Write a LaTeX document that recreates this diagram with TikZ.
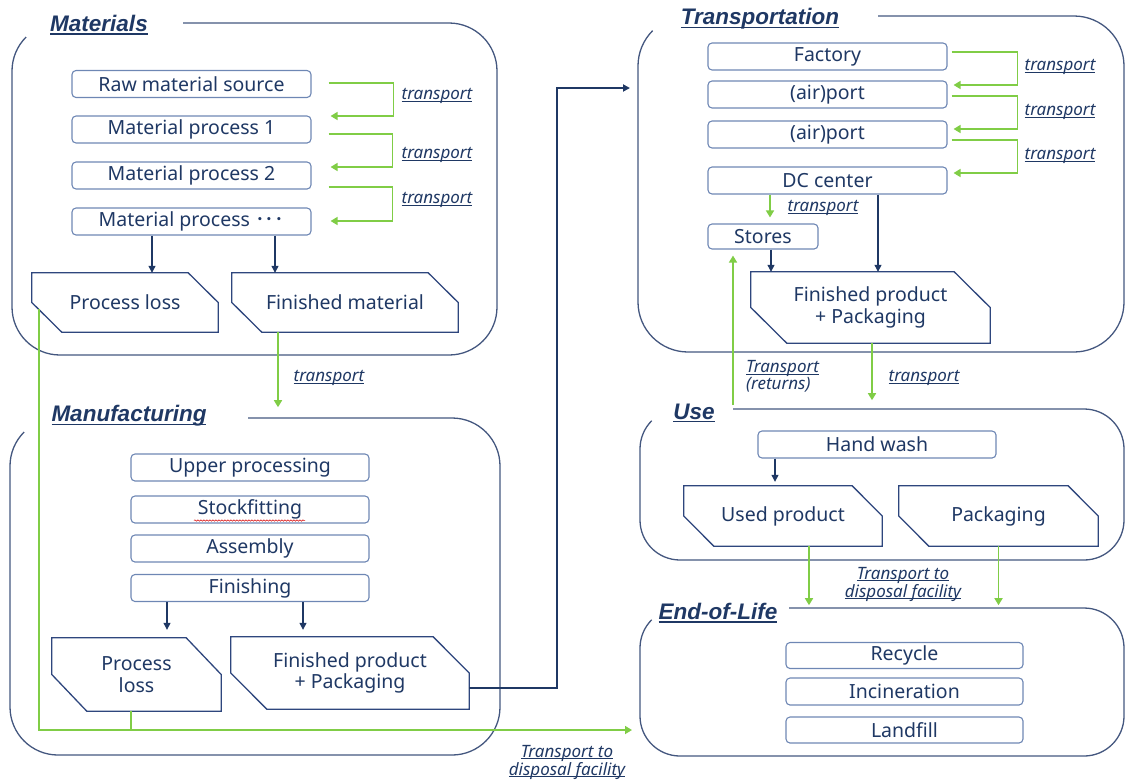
\documentclass[tikz,border=0pt]{standalone}
\usepackage{fontspec}
\setmainfont{Noto Sans}
\newfontfamily\cjk{Noto Sans CJK JP}
\newfontfamily\ttlfont{Liberation Sans}
\newcommand\myul[1]{{\setbox0=\hbox{#1}\rlap{\copy0}\rule[-0.14em]{\wd0}{0.06em}}}
\usetikzlibrary{arrows.meta,calc,decorations.pathmorphing}
\definecolor{navy}{RGB}{31,56,100}
\definecolor{contc}{RGB}{68,87,127}
\definecolor{boxc}{RGB}{110,135,180}
\definecolor{chc}{RGB}{46,70,125}
\definecolor{grn}{RGB}{128,205,70}
\newcommand\chamf[2]{\draw[draw=chc,line width=1.3pt,line join=miter] (#1.north west) -- ([xshift=-#2pt]#1.north east) -- (#1.east) -- (#1.south east) -- ([xshift=#2pt]#1.south west) -- (#1.west) -- cycle;}
\newcommand\contbox[6]{\draw[cont] (#5,#2) -- ({#3-#6},#2) arc[start angle=-90,end angle=0,radius=#6] -- (#3,{#4-#6}) arc[start angle=0,end angle=90,radius=#6] -- ({#1+#6},#4) arc[start angle=90,end angle=180,radius=#6] -- (#1,{#2+#6}) arc[start angle=180,end angle=225,radius=#6];}
\begin{document}
\begin{tikzpicture}[x=1pt,y=-1pt,
 cont/.style={draw=contc,line width=1.3pt},
 pbox/.style={draw=boxc,line width=1.1pt,rounded corners=4pt,minimum height=27pt,inner sep=0pt,font=\fontsize{19.5}{21}\selectfont,text=navy},
 chbox/.style={inner sep=0pt,align=center,font=\fontsize{19.5}{21.5}\selectfont,text=navy},
 ttl/.style={font=\ttlfont\fontsize{22.5}{26}\selectfont\bfseries\itshape,text=navy,inner sep=0pt},
 lbl/.style={font=\fontsize{17}{16}\selectfont\itshape,text=navy,align=center,inner sep=0pt},
 garrow/.style={draw=grn,line width=1.6pt,-{Triangle[length=7pt,width=8pt]}},
 gline/.style={draw=grn,line width=1.6pt},
 narrow/.style={draw=navy,line width=1.2pt,-{Triangle[length=7pt,width=7pt]}},
]
\useasboundingbox (0,0) rectangle (1126,780);

% containers
\contbox{12}{23}{497}{355}{183}{48}
\contbox{10}{418}{500}{755}{248}{48}
\contbox{638}{16}{1124}{352}{878}{50}
\contbox{640}{409}{1124}{560}{733}{40}
\contbox{640}{608}{1124}{756}{789}{40}

% titles
\node[ttl] (tmat) at (99,25) {\myul{Materials}};
\node[ttl] (tman) at (129,416) {\myul{Manufacturing}};
\node[ttl] (ttra) at (760,19) {\myul{Transportation}};
\node[ttl] (tuse) at (694,413) {\myul{Use}};
\node[ttl] (teol) at (718,613) {\myul{End-of-Life}};

% Materials
\node[pbox,minimum width=239pt] (raw) at (191.5,84) {Raw material source};
\node[pbox,minimum width=239pt] (mp1) at (191.5,129.5) {Material process 1};
\node[pbox,minimum width=239pt] (mp2) at (191.5,175.5) {Material process 2};
\node[pbox,minimum width=239pt] (mp3) at (191.5,221.5) {Material process {\cjk ･･･}};
\node[chbox,minimum width=186pt,minimum height=59pt] (mloss) at (125,302.5) {Process loss};
\node[chbox,minimum width=226pt,minimum height=59pt] (mfin) at (345,302.5) {Finished material};
\chamf{mloss}{30}
\chamf{mfin}{30}

\draw[garrow] ([xshift=17pt,yshift=1pt]raw.east) -- ++(65,0) |- ([xshift=19pt,yshift=13.5pt]mp1.east);
\draw[garrow] ([xshift=17pt,yshift=-4.5pt]mp1.east) -- ++(64,0) |- ([xshift=19pt,yshift=8.5pt]mp2.east);
\draw[garrow] ([xshift=17pt,yshift=-11.5pt]mp2.east) -- ++(64,0) |- ([xshift=19pt,yshift=0.5pt]mp3.east);
\node[lbl] (l1) at (437,96) {\myul{transport}};
\node[lbl] (l2) at (437,155) {\myul{transport}};
\node[lbl] (l3) at (437,200) {\myul{transport}};

\draw[narrow] ([xshift=-39.5pt]mp3.south) coordinate (a1) -- (a1 |- mloss.north);
\draw[narrow] ([xshift=83.5pt]mp3.south) coordinate (a2) -- (a2 |- mfin.north);

\draw[garrow] ([xshift=-67pt]mfin.south) -- ++(0,75);
\node[lbl] (l4) at (329,378) {\myul{transport}};

% Manufacturing
\node[pbox,minimum width=238pt] (up) at (250,467.5) {Upper processing};
\node[pbox,minimum width=238pt] (sf) at (250,509.5) {Stockfitting};
\node[pbox,minimum width=238pt] (as) at (250,548.5) {Assembly};
\node[pbox,minimum width=238pt] (fi) at (250,588) {Finishing};
\draw[red!85!black,line width=0.5pt,decoration={snake,amplitude=0.7pt,segment length=3pt},decorate] ([xshift=-56pt,yshift=-11pt]sf.center) -- ([xshift=55pt,yshift=-11pt]sf.center);
\node[chbox,minimum width=169pt,minimum height=73pt] (floss) at (136.5,674.5) {Process\\loss};
\node[chbox,minimum width=238pt,minimum height=72pt] (ffin) at (350,673) {Finished product\\+ Packaging};
\chamf{floss}{35}
\chamf{ffin}{36}
\draw[narrow,shorten >=8pt] ([xshift=-83pt]fi.south) coordinate (a3) -- (a3 |- floss.north);
\draw[narrow,shorten >=7pt] ([xshift=53pt]fi.south) coordinate (a4) -- (a4 |- ffin.north);

% disposal from materials / manufacturing
\coordinate (eolin) at (632,730);
\draw[garrow] ([xshift=7pt,yshift=-6.5pt]mloss.west) |- (eolin);
\draw[gline] ([xshift=-5.5pt]floss.south) -- ++(0,19);
\node[lbl] (l5) at (567,762) {\myul{Transport to}\\\myul{disposal facility}};

% manufacturing -> transportation
\coordinate (tin) at (630,88);
\draw[draw=navy,line width=1.8pt,-{Triangle[length=7pt,width=7pt]}] ([yshift=-15pt]ffin.east) -- ++(88,0) |- (tin);

% Transportation
\node[pbox,minimum width=239pt] (fac) at (827.5,56.5) {Factory};
\node[pbox,minimum width=239pt] (port1) at (827.5,94.5) {(air)port};
\node[pbox,minimum width=239pt] (port2) at (827.5,134.5) {(air)port};
\node[pbox,minimum width=239pt] (dc) at (827.5,180.5) {DC center};
\node[pbox,minimum width=110pt,minimum height=25pt] (stores) at (763,236.5) {Stores};
\node[chbox,minimum width=239pt,minimum height=71pt] (tfin) at (870.5,307.5) {Finished product\\+ Packaging};
\chamf{tfin}{36}

\draw[garrow] ([xshift=4pt,yshift=4.5pt]fac.east) -- ++(66,0) |- ([xshift=6pt,yshift=9.5pt]port1.east);
\draw[garrow] ([xshift=4pt,yshift=-1.5pt]port1.east) -- ++(66,0) |- ([xshift=6pt,yshift=5.5pt]port2.east);
\draw[garrow] ([xshift=4pt,yshift=-5.5pt]port2.east) -- ++(66,0) |- ([xshift=6pt,yshift=7.5pt]dc.east);
\node[lbl] (l6) at (1060,67) {\myul{transport}};
\node[lbl] (l7) at (1060,112) {\myul{transport}};
\node[lbl] (l8) at (1060,156) {\myul{transport}};

\draw[garrow,shorten >=6pt] ([xshift=-57.5pt]dc.south) coordinate (a5) -- (a5 |- stores.north);
\node[lbl] (l9) at (823,208) {\myul{transport}};
\draw[narrow] ([xshift=50.5pt]dc.south) coordinate (a6) -- (a6 |- tfin.north);
\draw[narrow] ([xshift=8pt]stores.south) coordinate (a7) -- (a7 |- tfin.north);

\draw[garrow] ([xshift=1.5pt]tfin.south) -- ++(0,57);
\node[lbl] (l10) at (924,378) {\myul{transport}};

\coordinate (usetop) at (733,405);
\draw[garrow] (usetop) -- ([xshift=-30pt,yshift=-6pt]stores.south);
\node[lbl,anchor=west,align=left] (l11) at (746,376.5) {\myul{Transport}\\(returns)};

% Use
\node[pbox,minimum width=238pt] (hw) at (877,444.5) {Hand wash};
\node[chbox,minimum width=198pt,minimum height=60pt] (used) at (783,516) {Used product};
\node[chbox,minimum width=199pt,minimum height=60pt] (pack) at (998.5,516) {Packaging};
\chamf{used}{30}
\chamf{pack}{30}
\draw[narrow,shorten >=4pt] ([xshift=-102pt]hw.south) coordinate (a8) -- (a8 |- used.north);
\draw[garrow] ([xshift=26pt]used.south) -- ++(0,59);
\draw[garrow] (pack.south) -- ++(0,59);
\node[lbl] (l12) at (903,584) {\myul{Transport to}\\\myul{disposal facility}};

% End-of-Life
\node[pbox,minimum width=237pt,minimum height=26pt] (rec) at (904.5,655.5) {Recycle};
\node[pbox,minimum width=237pt] (inc) at (904.5,691.5) {Incineration};
\node[pbox,minimum width=237pt,minimum height=26pt] (land) at (904.5,730) {Landfill};
\end{tikzpicture}
\end{document}
